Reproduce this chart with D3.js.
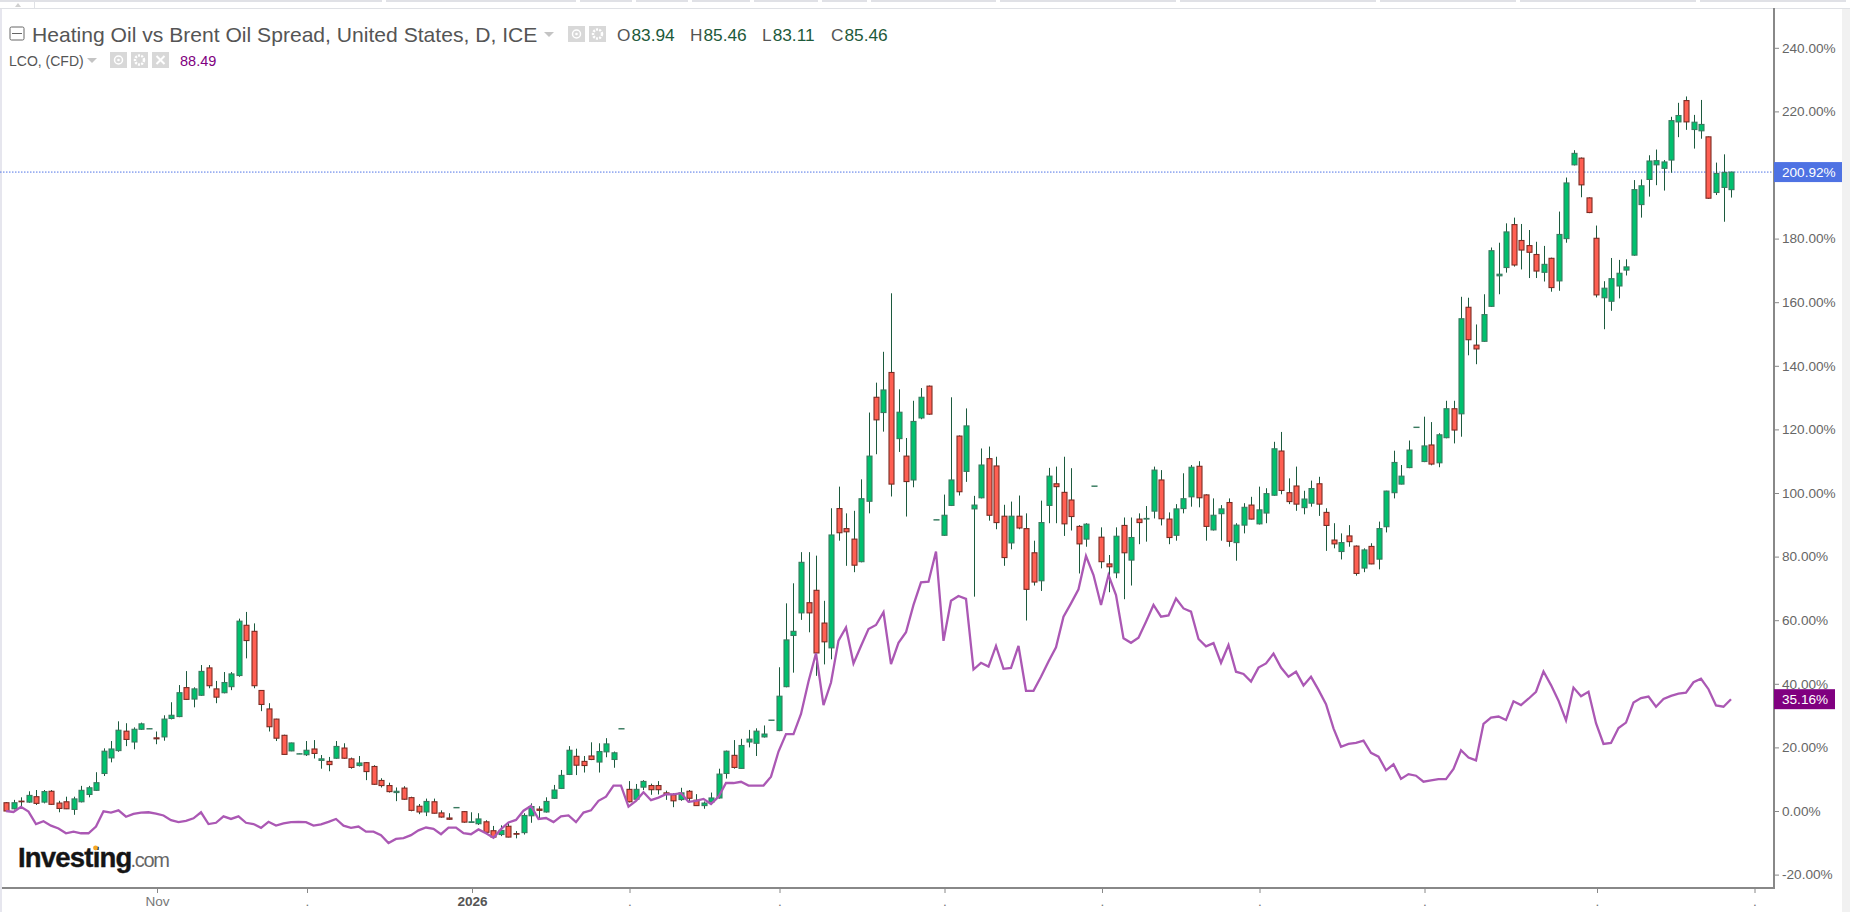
<!DOCTYPE html>
<html>
<head>
<meta charset="utf-8">
<title>Heating Oil vs Brent Oil Spread</title>
<script src="https://cdn.jsdelivr.net/npm/d3@7"></script>
<style>
	html, body { margin: 0; padding: 0; background: #fff; }
	svg { display: block; }
	text { font-family: "Liberation Sans", Arial, sans-serif; }
	.tick-y text { font-size: 13.6px; fill: #666; }
	.tick-x text { font-size: 13.6px; fill: #666; }
</style>
</head>
<body>
<div id="canvas"></div>
<script>
// values are % change from the start of the window
var opens = [
	2.6,0.7,3.1,2.8,4.5,2.8,6.2,2.5,2.9,0.5,
	2.9,5.2,6.5,11.8,16.7,19,25.1,21.7,25.7,25.8,
	23,23.3,29.1,29.7,38.8,35.2,36.4,45,38.4,37.2,
	39.1,42.6,58.4,56.5,37.9,32.1,28.9,23.8,18.9,17.9,
	17.7,19.5,15.9,15.6,16.6,19.8,16.4,14.3,15.2,14,
	9.6,8,5.8,7.2,4.2,1.5,-0.3,2.9,-0.6,-2.2,
	1,-0.2,-3.6,-4,-3.4,-6.2,-7.4,-4.8,-7.1,-6.8,
	-1.5,0.6,-0.3,4,7.1,11.5,17.2,15.6,17.3,15.4,
	18.6,16.2,25.8,6.8,3.7,7.5,8,8,5.7,5.1,
	3.6,6.2,3.4,1.7,2.8,4.1,11.8,17.5,13.4,21.7,
	21.3,23.3,28.5,25.3,39.1,55.2,62.3,65.5,69.4,59.1,
	51.3,95.1,88.8,85.5,78.4,97.4,130.1,125.3,137.9,117.1,
	111.6,104.1,123.6,133.6,91.5,86.7,96.1,117.9,106.8,95,
	98.5,110.8,108.5,92.7,84.3,92.7,88.8,81.2,72.4,96.1,
	102.9,100.2,97.8,89.5,85.5,102.1,86.1,77.7,74.9,89.8,
	78.9,91.8,91.8,94.3,104.1,91.8,86.7,95.1,98.8,108.4,
	99.4,88.4,93.5,97,84.4,89.9,96.2,90.3,93.7,99.3,
	113.2,100.1,102.2,95.4,96.8,102.9,93.9,85.2,81.6,86.5,
	83.3,76.4,83.2,79.2,89.4,100.1,102.8,108,120.6,109.9,
	115.1,109.5,117.4,126.5,124.9,158.4,146.5,147.7,158.7,168.3,
	170.9,184.4,179.4,177.8,175,169.4,173.8,166.7,180,203.2,
	205.3,192.8,180.1,161.4,160.3,165.1,170.1,174.8,190.7,198.6,
	203.2,202.1,204.7,216.7,223.4,214.3,213.9,212,194.5,196.1,195.4
];
var highs = [
	2.8,3.5,4.3,6.2,6.6,6.6,6.6,3.2,4.5,4.5,
	7.9,7.9,12.2,19.7,22,28.2,27.6,26.3,27.8,26,
	25,30.1,34.2,39.6,44,38.9,45.9,45.9,40.9,43.7,
	43.7,60.5,62.6,59,38,33.9,29,24,21.5,18.1,
	22,22.3,17.6,17,22,21.3,16.8,17.3,15.4,14.4,
	10.3,8.9,7.4,7.8,4.5,2.2,3.9,3.9,0.2,-0.7,
	1.1,0,-0.4,-0.7,-2.9,-4.7,-4.5,-3.5,-6.3,-0.7,
	2.4,1.5,4.3,8.2,12.9,20.4,19.6,17.3,21.6,21.3,
	22.9,18.7,25.9,9.4,8.5,9.7,8.6,9.4,6.4,5.6,
	7.3,6.6,5.3,3,5.8,13.3,19,22.3,22.7,25.5,
	26,26.9,28.6,45.2,65.3,71.6,81.4,81.4,80.3,66.1,
	95.2,102,93.6,94.4,104.3,125.3,134.7,144.4,162.8,132.6,
	117.3,129,133,133.8,91.6,99.5,130.1,118.1,126.6,99.1,
	114,114.6,111.4,96.3,97.3,99.2,93.6,85,97.6,107.9,
	108.3,111.4,107.8,89.9,90.5,102.2,89.2,80.5,89.2,92.3,
	92.3,93.6,95.9,108.3,107.2,93.9,96.5,106.2,108.8,110,
	99.6,98.3,96.2,98.3,90.5,96.8,98.8,102,101.5,116.1,
	119.2,104.6,108.3,100.7,103.9,105.1,95.2,90.5,87.3,89.9,
	83.5,82.6,84.2,91,100.7,113.3,108.8,116.5,120.7,124,
	122.3,118.8,129,129,161.7,161.4,153,162.5,177.2,178.7,
	184.8,186.6,184.6,182.7,179,177.7,174,188.5,199.2,207.8,
	205.5,193,184.1,166.6,173.9,173.3,173.5,198.4,198.6,206.2,
	208,204.7,218.3,222.7,224.7,218.9,223.6,212.1,203.9,206.5,201
];
var lows = [
	-0.2,0.5,1.4,2.6,1.9,2.4,1.9,-0.4,0.6,-1.2,
	2.7,4.3,6.3,11,15.3,18.6,20.4,19.4,25.5,25.8,
	21,22.1,28.8,29.5,34.9,32.6,36.2,38.6,33.9,37,
	38,42.2,48,38.6,31.4,25,22,17.7,18.8,17.9,
	17.3,16.5,13.3,12.5,16.4,16.4,13.3,14,9.7,8.2,
	7.4,5.8,3.1,3.5,-0.1,-1,-1.6,-0.8,-2.1,-2.8,
	1,-3.7,-3.7,-4.4,-6.9,-8.6,-7.9,-8.3,-8.6,-7.4,
	-3.7,-2.6,-0.5,3.8,6.9,11.3,11.3,12.1,16,12.1,
	16.9,13.6,25.8,2.7,3.5,6.6,5.1,5.2,3.5,1.2,
	3.2,2.7,1.6,0.7,2,3.9,10.2,13.3,13.3,20,
	17.3,23.1,28.5,25.1,38.9,43.5,60.1,56.2,42.5,46.1,
	47.7,85,77.1,75.1,78.2,93.6,112.2,119.3,98.9,112.9,
	92.6,101.8,123.2,124.6,91.5,86.5,95.9,99.2,103.5,67.4,
	98.3,91.3,88.6,77.1,82.3,88.6,59.9,70.9,69.2,90.5,
	90.5,86.5,88.2,74.7,83.1,102.1,76.3,68.8,73.2,66.6,
	70.9,83.9,84.7,92,89.8,83.9,85,93.6,95.7,95.5,
	85,88.2,85,83.1,78.7,87.3,91.7,90.1,90.5,99.1,
	99.6,96.5,94.4,93.3,95.7,92.8,81.8,82.6,79.1,83.1,
	74,75.1,77.6,76,87.6,98.3,102.7,107.8,120.5,109.7,
	108.7,108.1,117.2,115.6,117.7,143.3,140.5,147.5,158.5,162.5,
	169.3,171.2,170.3,167.6,167.6,166.5,163.3,163.6,178.7,203,
	193,188,161.5,151.5,157.3,161.2,168.4,174.6,186.6,193.2,
	196.8,195.1,200.7,211.9,214.2,208.3,211.4,192.5,193.7,185.3,192.9
];
var closes = [
	0,2.6,2.9,4.9,2.4,6.1,2.1,0.8,0.7,3.8,
	6.5,7.3,8.9,18.8,19.5,25.4,22.5,25.7,27.4,25.9,
	22.7,28.9,30.1,37.2,35.1,38.4,43.9,39.4,35.8,40.4,
	43.1,59.7,53.6,39.4,33.5,26.5,22.9,17.8,21.4,18,
	19.1,18.1,16.4,14.6,20.3,16.6,13.7,15.1,12.4,8.4,
	8,6.1,6.2,3.7,0.2,-0.3,3,-0.7,-1.9,-2.6,
	1.1,-3.5,-3.4,-2.5,-6.7,-8.2,-6.1,-8.2,-7.3,-1.4,
	1.4,0.2,3,6.6,11.2,19.1,14.4,14.3,16.2,18.7,
	21.1,18.3,25.9,2.9,6.8,9.3,6.7,6.7,5.2,3.2,
	5.7,4,1.7,2.5,4.1,11.6,18.8,13.7,20.6,22.6,
	25.1,24.2,28.6,36.1,53.8,56.5,78.2,62.3,49.7,53.2,
	86.8,87.5,87.8,77.3,98.2,111.6,123,132.4,102.8,125.4,
	103.6,122.5,130.1,124.8,91.6,93,104.1,100.4,121.1,96.2,
	108.8,93,90.7,79.7,92.7,89,69.7,72,90.7,105.3,
	102,90.3,92.6,84,90.2,102.2,78.4,76.8,86.4,81.2,
	86,90.7,92,107.2,91.9,86,95,98.2,108.1,98.5,
	89.5,93,95,84.8,89.9,95.5,91.8,94.7,99.8,113.9,
	100.8,97.3,96.5,98.1,101.4,96.5,89.8,84,84.4,84.7,
	74.7,82.1,77.7,88.8,100.6,109.6,105.3,113.5,120.7,114.8,
	109.1,118.3,126.5,119.8,154.8,148.2,145.3,156.1,176.2,168.8,
	182.1,171.7,176.4,175.7,169.8,171.9,164.6,181.3,197.5,206.8,
	196.9,188.2,162.3,164.4,167.4,169.1,171.1,195.4,196.6,204.4,
	204.5,204.1,217.1,218.7,216.7,216.6,215.9,192.7,200.5,200.8,200.92
];
var lco = [
	0,-0.3,1.3,-0.2,-4.1,-3.2,-4.6,-5.5,-7,-6.5,
	-7,-7,-4.9,-0.1,-0.5,0.2,-1.8,-0.9,-0.5,-0.4,
	-0.8,-1.4,-2.9,-3.5,-3.1,-2.3,-0.4,-4.1,-3.7,-1.7,
	-2.5,-1.7,-3.7,-4.1,-5.3,-3.4,-4.6,-3.9,-3.5,-3.4,
	-3.5,-4.6,-4.2,-3.4,-2.5,-4.6,-5.3,-4.9,-6.5,-6.5,
	-7.6,-10.1,-8.8,-8.5,-7.6,-6.1,-5.2,-5.6,-7.3,-5.2,
	-5.2,-7,-7.3,-5.8,-7,-8.4,-5.7,-3.6,-2.8,0.1,
	1.6,-2.5,-2.2,-3.5,-1.7,-1.4,-3.5,-0.5,0.2,3.2,
	4.5,8,8,1.4,3.2,5.9,3.4,4.2,5.3,5.2,
	5.6,2.9,3.2,3.8,2.2,4.5,8.8,8.8,9.2,8,
	8,8,10.8,18.7,24.2,24.2,30.5,40.7,49.6,33.3,
	40.4,53.6,57.7,46.4,51.9,57.2,58.5,62.5,46.2,52.9,
	56.2,64.8,71.9,72.1,81.6,53.5,66.1,67.6,66.7,44.5,
	46.6,45.4,51.9,44.7,45,51.9,37.8,37.8,42.2,47,
	51.5,61.1,65.3,69.7,80.2,74.2,64.8,74.2,67.9,54.3,
	52.9,54.5,59.5,64.8,61.1,61.5,66.8,63.7,62.7,54.1,
	51.8,52.8,46.6,52.2,43.8,43.1,40.7,45.1,46.4,49.5,
	45.1,42.2,43.8,39.5,42.2,38.1,33.6,26,20.2,21.1,
	21.4,22.1,18.3,17.1,12.8,14.7,10.1,11.6,11.1,9.2,
	9.6,10,10,13.2,19.1,16.8,15.9,27.4,29.4,29.7,
	28.6,34.5,33.3,35.3,37.5,43.9,39.6,34.7,28.5,38.8,
	36.1,37.5,27.6,21.1,21.4,26.1,27.8,34.1,35.5,36,
	32.8,35.2,36.2,36.9,37.2,40.5,41.6,38.3,33.2,32.8,35.16
];

var yTicks = [-20,0,20,40,60,80,100,120,140,160,180,200,220,240];
// bar index of each month mark, most of the labels are cut off to a dot
var monthIndex = [20,40,62,83,103,125,146,167,189,212,233];
var monthLabels = ["Nov",".","2026",".",".",".",".",".",".",".","."];

var lastClose = 200.92, lastLco = 35.16;
var titleText = "Heating Oil vs Brent Oil Spread, United States, D, ICE";
var ohlcNames = ["O","H","L","C"];
var ohlcValues = ["83.94","85.46","83.11","85.46"];
var topTabs = [0,386,580,636,692,754,822,871,1000,1180,1380,1520,1700];

var width = 1850, height = 912;
var plotRight = 1774, plotBottom = 888, plotTop = 8;

var svg = d3.select("#canvas").append("svg")
	.attr("width", width)
	.attr("height", height);

var x = d3.scaleLinear().domain([0, 230]).range([6, 1731]);
var y = d3.scaleLinear().domain([-20, 240]).range([874.6, 47.8]);

// page chrome around the chart
svg.append("g").selectAll("rect")
	.data(topTabs)
	.enter().append("rect")
	.attr("x", function(d) { return d; })
	.attr("y", 0)
	.attr("width", function(d, i) { return (i < topTabs.length - 1 ? topTabs[i + 1] : width) - d - 4; })
	.attr("height", 2)
	.attr("fill", "#e0e1e6");
svg.append("rect").attr("x", 0).attr("y", 8).attr("width", width).attr("height", 1).attr("fill", "#dfe1e5");
svg.append("rect").attr("x", 1842).attr("y", 9).attr("width", 8).attr("height", height - 9).attr("fill", "#f1f1f1");
svg.append("rect").attr("x", 0).attr("y", 9).attr("width", 2).attr("height", height - 9).attr("fill", "#e6e6ee");
svg.append("path").attr("d", "M15,7l3,-4l3,4z").attr("fill", "#d0d0d0");
svg.append("rect").attr("x", 34).attr("y", 2).attr("width", 1).attr("height", 6).attr("fill", "#dfe1e5");

// current value line
svg.append("line")
	.attr("x1", 0).attr("x2", plotRight)
	.attr("y1", y(lastClose)).attr("y2", y(lastClose))
	.attr("stroke", "#4f73e6")
	.attr("stroke-width", 1)
	.attr("stroke-dasharray", "1.5,1.5");

// candles
var candles = svg.append("g").selectAll("g")
	.data(d3.range(opens.length))
	.enter().append("g")
	.attr("transform", function(i) { return "translate(" + Math.round(x(i)) + ",0)"; });

candles.append("line")
	.attr("x1", 0.5).attr("x2", 0.5)
	.attr("y1", function(i) { return y(highs[i]); })
	.attr("y2", function(i) { return y(lows[i]); })
	.attr("stroke", "#1c5a3e")
	.attr("stroke-width", 1);

candles.append("rect")
	.attr("x", -2)
	.attr("width", 5)
	.attr("y", function(i) { return y(Math.max(opens[i], closes[i])); })
	.attr("height", function(i) { return Math.abs(y(opens[i]) - y(closes[i])); })
	.attr("fill", function(i) { return closes[i] >= opens[i] ? "#00c06e" : "#ff5f52"; })
	.attr("stroke", function(i) { return closes[i] >= opens[i] ? "#3a7a60" : "#7c2c24"; })
	.attr("stroke-width", 1.1);

// LCO line
var line = d3.line()
	.x(function(d, i) { return x(i); })
	.y(function(d) { return y(d); });

svg.append("path")
	.datum(lco)
	.attr("d", line)
	.attr("fill", "none")
	.attr("stroke", "#ab58b4")
	.attr("stroke-width", 2.3)
	.attr("stroke-linejoin", "miter");

// axes
var yAxis = d3.axisRight(y)
	.tickValues(yTicks)
	.tickSize(5)
	.tickPadding(3)
	.tickFormat(function(d) { return d.toFixed(2) + "%"; });

var yAxisG = svg.append("g")
	.attr("class", "tick-y")
	.attr("transform", "translate(" + plotRight + ",0)")
	.call(yAxis);
yAxisG.select(".domain").remove();
yAxisG.selectAll("line").attr("stroke", "#888");

var xAxis = d3.axisBottom(x)
	.tickValues(monthIndex)
	.tickSize(5)
	.tickPadding(3)
	.tickFormat(function(d, i) { return monthLabels[i]; });

var xAxisG = svg.append("g")
	.attr("class", "tick-x")
	.attr("transform", "translate(1," + plotBottom + ")")
	.call(xAxis);
xAxisG.select(".domain").remove();
xAxisG.selectAll("line").attr("stroke", "#888");
xAxisG.selectAll("text")
	.attr("font-weight", function(d, i) { return monthLabels[i] === "2026" ? "bold" : "normal"; })
	.style("fill", function(d, i) { return monthLabels[i] === "2026" ? "#555" : "#777"; });

svg.append("line").attr("x1", plotRight).attr("x2", plotRight).attr("y1", plotTop).attr("y2", plotBottom + 1)
	.attr("stroke", "#888").attr("stroke-width", 2);
svg.append("line").attr("x1", 2).attr("x2", plotRight).attr("y1", plotBottom).attr("y2", plotBottom)
	.attr("stroke", "#888").attr("stroke-width", 2);

// value tags on the axis
function addTag(value, right, color) {
	var yy = y(value);
	svg.append("rect")
		.attr("x", plotRight).attr("y", yy - 10)
		.attr("width", right - plotRight).attr("height", 20)
		.attr("fill", color);
	svg.append("text")
		.attr("x", 1782).attr("y", yy + 5)
		.attr("font-size", "13.6px")
		.attr("fill", "#fff")
		.text(value.toFixed(2) + "%");
}
addTag(lastClose, 1842, "#4e72e3");
addTag(lastLco, 1835, "#800080");

// legend
function addIcons(startX, yy, kinds) {
	kinds.forEach(function(k, i) {
		var ix = startX + i * 21;
		svg.append("rect").attr("x", ix).attr("y", yy).attr("width", 17).attr("height", 16).attr("fill", "#d8d8d8");
		var cx = ix + 8.5, cy = yy + 8;
		if (k === "eye") {
			svg.append("circle").attr("cx", cx).attr("cy", cy).attr("r", 4).attr("fill", "none").attr("stroke", "#fff").attr("stroke-width", 1.5);
			svg.append("circle").attr("cx", cx).attr("cy", cy).attr("r", 1.3).attr("fill", "#fff");
		} else if (k === "gear") {
			svg.append("circle").attr("cx", cx).attr("cy", cy).attr("r", 4.5).attr("fill", "none").attr("stroke", "#fff").attr("stroke-width", 2.5).attr("stroke-dasharray", "2,1.2");
		} else {
			svg.append("path").attr("d", "M" + (cx - 4) + "," + (cy - 4) + "L" + (cx + 4) + "," + (cy + 4) + "M" + (cx + 4) + "," + (cy - 4) + "L" + (cx - 4) + "," + (cy + 4))
				.attr("stroke", "#fff").attr("stroke-width", 2);
		}
	});
}
function addCaret(cx, cy) {
	svg.append("path").attr("d", "M" + (cx - 5) + "," + cy + "h10l-5,5z").attr("fill", "#c4c4c4");
}

svg.append("rect").attr("x", 10).attr("y", 27).attr("width", 14).attr("height", 13).attr("rx", 1.5)
	.attr("fill", "#fff").attr("stroke", "#666");
svg.append("line").attr("x1", 12).attr("x2", 22).attr("y1", 33.5).attr("y2", 33.5).attr("stroke", "#666");

svg.append("text").attr("x", 32).attr("y", 42)
	.attr("font-size", "21.1px").attr("fill", "#555")
	.text(titleText);
addCaret(549, 32);
addIcons(568, 26, ["eye", "gear"]);

var ohlcX = [617, 690, 762, 831];
ohlcNames.forEach(function(n, i) {
	var t = svg.append("text").attr("x", ohlcX[i]).attr("y", 41).attr("font-size", "17.3px");
	t.append("tspan").attr("fill", "#555").text(n);
	t.append("tspan").attr("fill", "#1d5a3a").attr("dx", 1).text(ohlcValues[i]);
});

svg.append("text").attr("x", 9).attr("y", 66)
	.attr("font-size", "14px").attr("fill", "#555")
	.text("LCO, (CFD)");
addCaret(92, 58);
addIcons(110, 52, ["eye", "gear", "x"]);
svg.append("text").attr("x", 180).attr("y", 66)
	.attr("font-size", "14.5px").attr("fill", "#800080")
	.text("88.49");

// logo
var logo = svg.append("text").attr("x", 18).attr("y", 867);
logo.append("tspan")
	.attr("font-size", "27.5px").attr("font-weight", "bold").attr("fill", "#151515")
	.attr("stroke", "#151515").attr("stroke-width", 0.4).attr("letter-spacing", "-0.8px")
	.text("Investing");
logo.append("tspan")
	.attr("font-size", "20px").attr("fill", "#666").attr("dx", -1).attr("letter-spacing", "-1.3px")
	.text(".com");
svg.append("circle").attr("cx", 95.5).attr("cy", 848).attr("r", 2.4).attr("fill", "#f5a623");
</script>
</body>
</html>
